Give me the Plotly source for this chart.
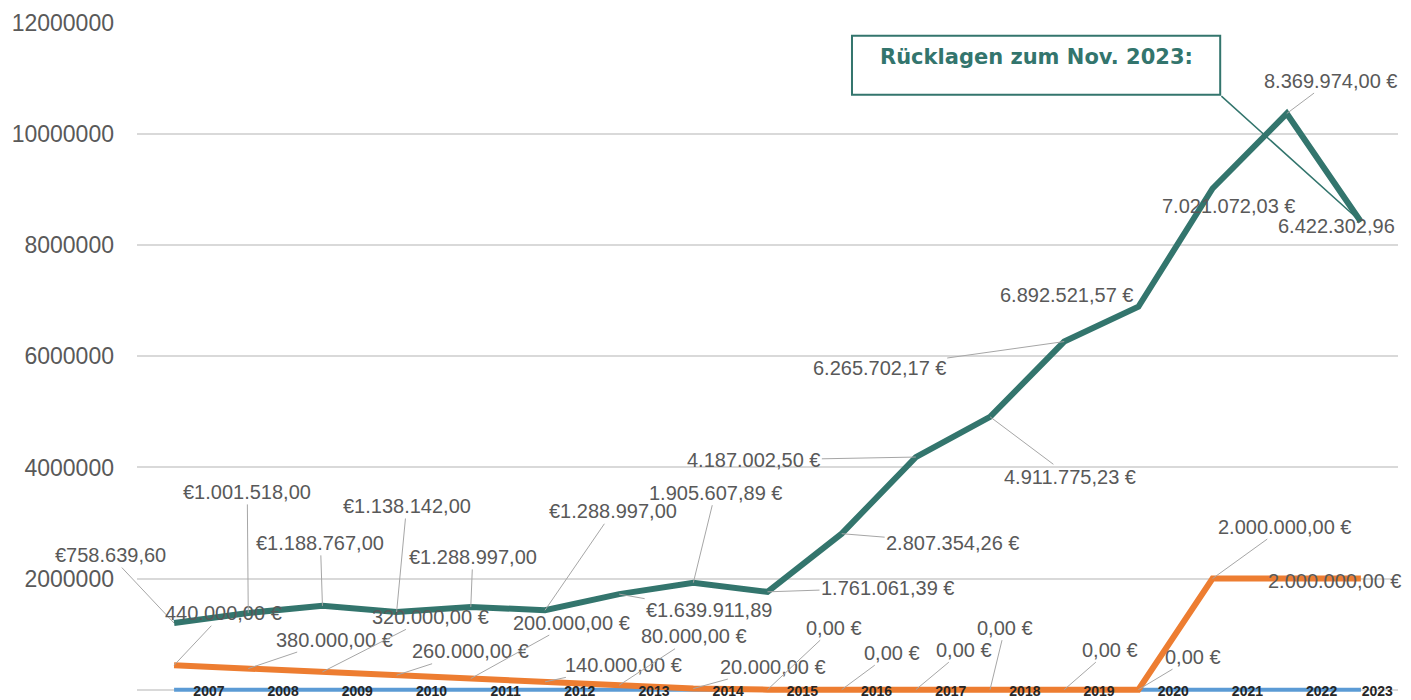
import plotly.graph_objects as go

# ---------------- data ----------------
years = ["2007", "2008", "2009", "2010", "2011", "2012", "2013", "2014", "2015",
         "2016", "2017", "2018", "2019", "2020", "2021", "2022", "2023"]
blue_vals = [0, 0, 0, 0, 0, 0, 0, 0, 0, 0, 0, 0, 0, 0, 0, 0, 0]
orange_vals = [440000.00, 380000.00, 320000.00, 260000.00, 200000.00, 140000.00,
               80000.00, 20000.00, 0.00, 0.00, 0.00, 0.00, 0.00, 0.00,
               2000000.00, 2000000.00, 2000000.00]
teal_vals = [758639.60, 1001518.00, 1188767.00, 1138142.00, 1288997.00, 1288997.00,
             1639911.89, 1905607.89, 1761061.39, 2807354.26, 4187002.50, 4911775.23,
             6265702.17, 6892521.57, 7021072.03, 8369974.00, 6422302.96]
y_ticks = [0, 2000000, 4000000, 6000000, 8000000, 10000000, 12000000]
box_title = "Rücklagen zum Nov. 2023:"

# label formats: 'pre' -> €x, 'post' -> x €, 'none' -> x
teal_fmt = ["pre"] * 7 + ["post"] * 9 + ["none"]
orange_fmt = ["post"] * 16 + [None]

# --------------- styling ---------------
TEAL = "#33756D"
ORANGE = "#ED7D31"
BLUE = "#5B9BD5"
LBL = "#595959"
LEAD = "#A6A6A6"
FONT = "Liberation Sans"

# label offsets (px) relative to the point, and whether a leader line shows
teal_off = [(-64, -68, 1), (-1, -121, 1), (-2, -63, 1), (10, -106, 1), (2, -50, 1),
            (68, -99, 1), (90, 16, 1), (22, -90, 1), (120, -4, 1), (111, 9, 1),
            (-162, 3, 1), (80, 60, 1), (-185, 26, 1), (-72, -12, 0), (16, 17, 0),
            (44, -33, 1), (-24, 4, 0)]
orange_off = [(49, -52, 1), (86, -29, 1), (108, -55, 1), (74, -24, 1), (101, -56, 1),
              (79, -17, 1), (75, -49, 1), (80, -22, 1), (66, -62, 1), (50, -37, 1),
              (48, -40, 1), (15, -62, 1), (46, -40, 1), (55, -33, 1), (72, -52, 1),
              (48, 2, 0), (0, 0, 0)]


def de(v):
    s = f"{v:,.2f}"
    return s.replace(",", "X").replace(".", ",").replace("X", ".")


def label(v, f):
    if f == "pre":
        return "€" + de(v)
    if f == "post":
        return de(v) + " €"
    return de(v)


xs = list(range(len(years)))
orange_stack = [b + o for b, o in zip(blue_vals, orange_vals)]
teal_stack = [s + t for s, t in zip(orange_stack, teal_vals)]

fig = go.Figure()
fig.add_trace(go.Scatter(x=xs, y=blue_vals, stackgroup="s", fill="none", mode="lines",
                         line=dict(color=BLUE, width=4), name="", showlegend=False))
fig.add_trace(go.Scatter(x=xs, y=orange_vals, stackgroup="s", fill="none", mode="lines",
                         line=dict(color=ORANGE, width=6), name="", showlegend=False))
fig.add_trace(go.Scatter(x=xs, y=teal_vals, stackgroup="s", fill="none", mode="lines",
                         line=dict(color=TEAL, width=6), name="", showlegend=False))

ann = []
for i, x in enumerate(xs):
    ax, ay, lead = teal_off[i]
    ann.append(dict(x=x, y=teal_stack[i], text=label(teal_vals[i], teal_fmt[i]),
                    showarrow=True, ax=ax, ay=ay, arrowhead=0, arrowwidth=1,
                    arrowcolor=LEAD if lead else "rgba(0,0,0,0)", standoff=0,
                    font=dict(family=FONT, size=20, color=LBL)))
    if orange_fmt[i] is not None:
        ax, ay, lead = orange_off[i]
        ann.append(dict(x=x, y=orange_stack[i], text=label(orange_vals[i], orange_fmt[i]),
                        showarrow=True, ax=ax, ay=ay, arrowhead=0, arrowwidth=1,
                        arrowcolor=LEAD if lead else "rgba(0,0,0,0)", standoff=0,
                        font=dict(family=FONT, size=20, color=LBL)))

# callout box + connector to last teal point
ann.append(dict(xref="paper", yref="paper", x=0.713, y=0.950, xanchor="center", yanchor="middle",
                text="<b>" + box_title + "</b>", showarrow=False,
                font=dict(family="DejaVu Sans", size=21, color=TEAL)))
ann.append(dict(x=xs[-1], y=teal_stack[-1], text=" ", font=dict(size=1),
                showarrow=True, ax=-141, ay=-127, arrowhead=0, arrowwidth=1.5,
                arrowcolor=TEAL, standoff=0))

shapes = [dict(type="rect", xref="paper", yref="paper", x0=0.567, x1=0.859, y0=0.893, y1=0.981,
               line=dict(color=TEAL, width=2), fillcolor="white", layer="above")]

tickpos = [min(x + 0.47, 16.22) for x in xs]

fig.update_layout(
    width=1411, height=700,
    margin=dict(l=137, r=13, t=23, b=7),
    paper_bgcolor="white", plot_bgcolor="white",
    showlegend=False,
    annotations=ann, shapes=shapes,
    xaxis=dict(range=[-0.5, 16.5], tickmode="array", tickvals=tickpos,
               ticktext=["<b>" + y + "</b>" for y in years], showgrid=False,
               zeroline=False, showline=False, ticks="", automargin=False,
               ticklabelstandoff=-12,
               tickfont=dict(family=FONT, size=14, color="#262626")),
    yaxis=dict(range=[-60000, 12000000], tickmode="array", tickvals=y_ticks, tickformat="d",
               showgrid=True, gridcolor="#D9D9D9", gridwidth=1.5, zeroline=False,
               showline=False, ticks="", automargin=False, ticklabelstandoff=22,
               tickfont=dict(family=FONT, size=23, color=LBL)),
)

fig.write_html("out.html", config={"displayModeBar": False},
               post_script="document.body.style.margin='0px';")
